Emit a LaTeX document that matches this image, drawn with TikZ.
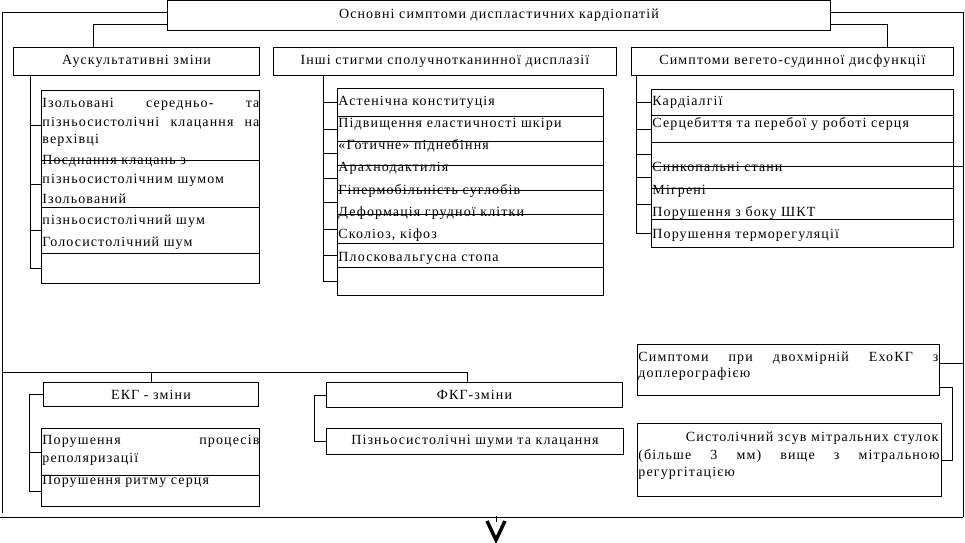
\documentclass[tikz,border=0pt]{standalone}
\usepackage{fontspec}
\setmainfont{Liberation Serif}[LetterSpace=8]
\usetikzlibrary{calc}
% stretched line of a justified paragraph, width in px
\newcommand{\jl}[2]{\makebox[\dimexpr 0.75pt*#1\relax][s]{#2}}
\newcommand{\px}{0.75pt}

\begin{document}
\begin{tikzpicture}[x=0.75pt, y=-0.75pt, line width=0.7pt,
  font=\fontsize{10.5}{12}\selectfont,
  box/.style={draw, inner sep=0pt, anchor=north west},
  txt/.style={anchor=base west, inner sep=0pt}]
  \useasboundingbox (0,0) rectangle (965,543);

  % headers
  \node[box, minimum width=663*\px, minimum height=30*\px] (main) at (167,0) {Основні симптоми диспластичних кардіопатій};
  \node[box, minimum width=246*\px, minimum height=28*\px] (aus) at (13,47) {Аускультативні зміни};
  \node[box, minimum width=343*\px, minimum height=28*\px] (inshi) at (273,47) {Інші стигми сполучнотканинної дисплазії};
  \node[box, minimum width=322*\px, minimum height=28*\px] (veg) at (631,47) {Симптоми вегето-судинної дисфункції};

  % list rows
  \foreach \a/\b [count=\i] in {90/160,160/207,207/253,253/283}
    \node[box, minimum width=218*\px, minimum height=(\b-\a)*\px] (a\i) at (41,\a) {};
  \foreach \a/\b [count=\i] in {88/116,116/141,141/165,165/190,190/214,214/243,243/267,267/295}
    \node[box, minimum width=266*\px, minimum height=(\b-\a)*\px] (b\i) at (337,\a) {};
  \foreach \a/\b [count=\i] in {89/115,115/142,142/166,166/188,188/219,219/247}
    \node[box, minimum width=302*\px, minimum height=(\b-\a)*\px] (c\i) at (651,\a) {};

  % list texts
  \foreach \y/\t [count=\i] in {107/{\jl{217}{Ізольовані середньо- та}},
      126/{\jl{217}{пізньосистолічні клацання на}}, 143/верхівці,
      164/Поєднання клацань з, 183/пізньосистолічним шумом, 203/Ізольований,
      224/пізньосистолічний шум, 246/Голосистолічний шум}
    \node[txt] (ta\i) at (42,\y) {\t};
  \foreach \t [count=\i from 0] in {Астенічна конституція, Підвищення еластичності шкіри,
      «Готичне» піднебіння, Арахнодактилія, Гіпермобільність суглобів,
      Деформація грудної клітки, {Сколіоз, кіфоз}, Плосковальгусна стопа}
    \node[txt] (tb\i) at (338,105+22.3*\i) {\t};
  \foreach \k/\t [count=\i] in {0/Кардіалгії, 1/Серцебиття та перебої у роботі серця,
      3/Синкопальні стани, 4/Мігрені, 5/Порушення з боку ШКТ, 6/Порушення терморегуляції}
    \node[txt] (tc\i) at (652,105+22.3*\k) {\t};

  % frame
  \coordinate (lt) at (2,513);
  \coordinate (lb) at (0,517);
  \coordinate (rb) at (963,517);
  \draw ($(main.north west)+(0,12)$) -| (lt);
  \draw ($(main.north east)+(0,12)$) -| (rb);
  \draw (lb) -- (rb);
  \draw ($(main.north west)+(0,24)$) -| ($(aus.north west)+(80,0)$);
  \draw ($(main.north east)+(0,24)$) -| ($(veg.north west)+(256,0)$);

  % brackets
  \draw ($(aus.south west)+(17,0)$) |- (a4.west);
  \foreach \i in {1,2,3} \draw (a\i.west) -- ++(-11,0);
  \draw ($(inshi.south west)+(50,0)$) |- (b8.west);
  \foreach \i in {1,...,7} \draw (b\i.west) -- ++(-14,0);
  \draw ($(veg.south west)+(5,0)$) |- (c6.west);
  \foreach \i in {1,...,5} \draw (c\i.west) -- ++(-15,0);
  \draw (c4.north east) -- ++(10,0);

  % lower part
  \node[box, minimum width=215*\px, minimum height=24*\px] (ekg) at (43,382) {ЕКГ - зміни};
  \node[box, minimum width=218*\px, minimum height=47*\px] (q1) at (41,428) {};
  \node[box, minimum width=218*\px, minimum height=31*\px] (q2) at (41,475) {};
  \node[txt] (tq1) at (42,444) {\jl{217}{Порушення процесів}};
  \node[txt] (tq2) at (42,462) {реполяризації};
  \node[txt] (tq3) at (42,484) {Порушення ритму серця};
  \node[box, minimum width=296*\px, minimum height=25*\px] (fkg) at (326,382) {ФКГ-зміни};
  \node[box, minimum width=297*\px, minimum height=26*\px] (pizn) at (326,428) {Пізньосистолічні шуми та клацання};
  \node[box, minimum width=302*\px, minimum height=51*\px] (echo) at (637,344) {};
  \node[txt] (te1) at (638,361) {\jl{300}{Симптоми при двохмірній ЕхоКГ з}};
  \node[txt] (te2) at (638,377) {доплерографією};
  \node[box, minimum width=304*\px, minimum height=73*\px] (sys) at (637,423) {};
  \node[txt] (ts1) at (638,441) {\makebox[\dimexpr 0.75pt*300\relax][r]{Систолічний зсув мітральних стулок}};
  \node[txt] (ts2) at (638,459) {\jl{301}{(більше 3 мм) вище з мітральною}};
  \node[txt] (ts3) at (638,476) {регургітацією};

  \coordinate (bus) at (3,372);
  \draw (bus) -| ($(fkg.north)+(-7,0)$);
  \draw (ekg.north) -- ++(0,-10);
  \draw (ekg.west) -- ++(-14,0) |- (q2.west);
  \draw (q1.west) -- ++(-12,0);
  \draw (fkg.west) -- ++(-12,0) |- (pizn.west);
  \draw ($(echo.north east)+(0,19)$) -- ++(24,0);
  \draw ($(echo.south east)+(0,-8)$) -| ($(sys.east)+(11,0)$) -- (sys.east);

  % arrow below
  \draw (496,516) -- (496,522);
  \draw[line width=2.6pt] (487,521) -- (496,540) -- (505,521);
\end{tikzpicture}
\end{document}
